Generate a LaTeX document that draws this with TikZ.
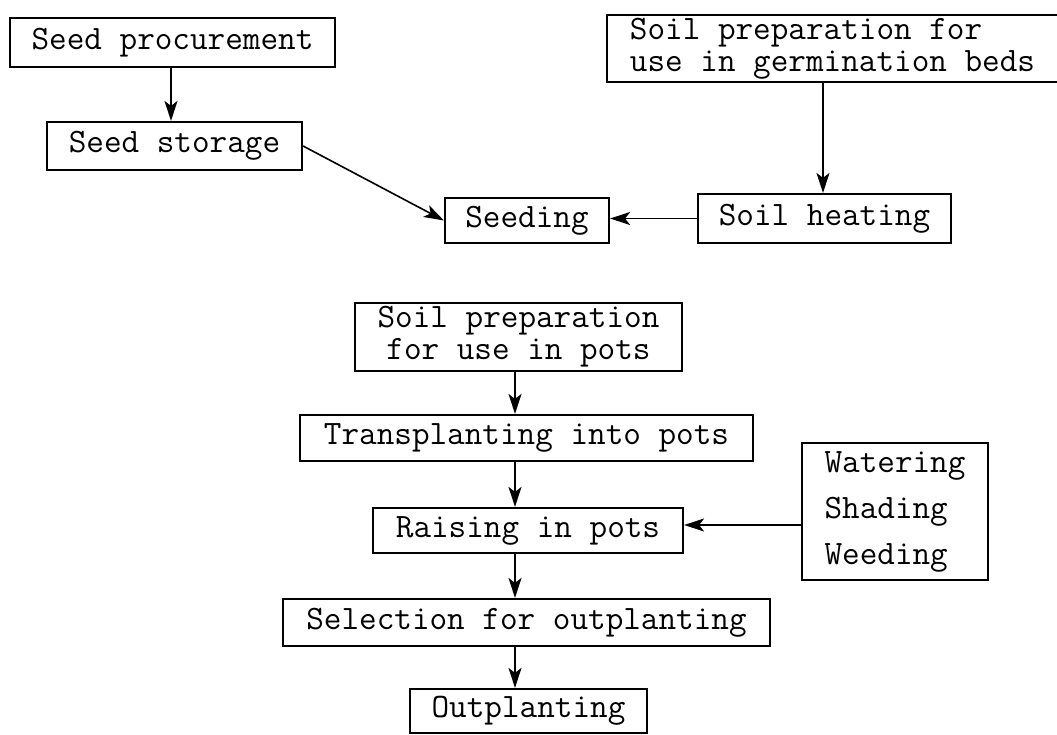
\documentclass[tikz,border=0pt]{standalone}
\usepackage{fontspec}
\usetikzlibrary{arrows.meta}
\newcommand\twfont[1]{\ttfamily\addfontfeature{FakeBold=0.8}\fontsize{17.1pt}{#1}\selectfont}
\begin{document}
\begin{tikzpicture}[x=0.5pt,y=-0.5pt,
  box/.style={draw,line width=1.1pt,rectangle,inner sep=0pt,font=\twfont{16pt}},
  arr/.style={line width=0.8pt,-{Stealth[length=10pt,width=6.5pt,inset=2.5pt]}}]
\useasboundingbox (0,0) rectangle (1057,735);
% top part
\node[box,minimum width=162.5pt,minimum height=24.5pt] (proc) at (172.5,42.5) {Seed procurement};
\node[box,minimum width=127.5pt,minimum height=24pt] (stor) at (174.5,146) {Seed storage};
\node[box,minimum width=82pt,minimum height=22.5pt] (seed) at (527,220.5) {Seeding};
\node[box,align=left,minimum width=225.5pt,minimum height=33.5pt] (germ) at (832.5,48.5) {Soil preparation for\\use in germination beds};
\node[box,minimum width=126.5pt,minimum height=24.5pt] (heat) at (824.5,218.5) {Soil heating};
% bottom part
\node[box,align=center,minimum width=163.5pt,minimum height=34pt] (pots) at (518.5,337) {Soil preparation\\for use in pots};
\node[box,minimum width=226.5pt,minimum height=23pt] (trans) at (526.5,438) {Transplanting into pots};
\node[box,minimum width=155pt,minimum height=22.5pt] (raise) at (528,530.5) {Raising in pots};
\node[box,align=left,minimum width=93pt,minimum height=68.5pt,font=\twfont{23pt}] (water) at (895,511.5) {Watering\\Shading\\Weeding};
\node[box,minimum width=243.5pt,minimum height=23.5pt] (sel) at (526.5,622.5) {Selection for outplanting};
\node[box,minimum width=118.5pt,minimum height=22pt] (outp) at (528.5,711) {Outplanting};
% helper coordinates
\coordinate (ca) at (171,0);
\coordinate (cb) at (823,0);
\coordinate (cc) at (515,0);
\coordinate (cw) at (0,525);
% connectors
\draw[arr] (proc.south -| ca) -- (stor.north -| ca);
\draw[arr] (stor.east) -- (seed.west);
\draw[arr] (germ.south -| cb) -- (heat.north -| cb);
\draw[arr] (heat.west) -- (seed.east |- heat.west);
\draw[arr] (pots.south -| cc) -- (trans.north -| cc);
\draw[arr] (trans.south -| cc) -- (raise.north -| cc);
\draw[arr] (water.west |- cw) -- (raise.east |- cw);
\draw[arr] (raise.south -| cc) -- (sel.north -| cc);
\draw[arr] (sel.south -| cc) -- (outp.north -| cc);
\end{tikzpicture}
\end{document}
